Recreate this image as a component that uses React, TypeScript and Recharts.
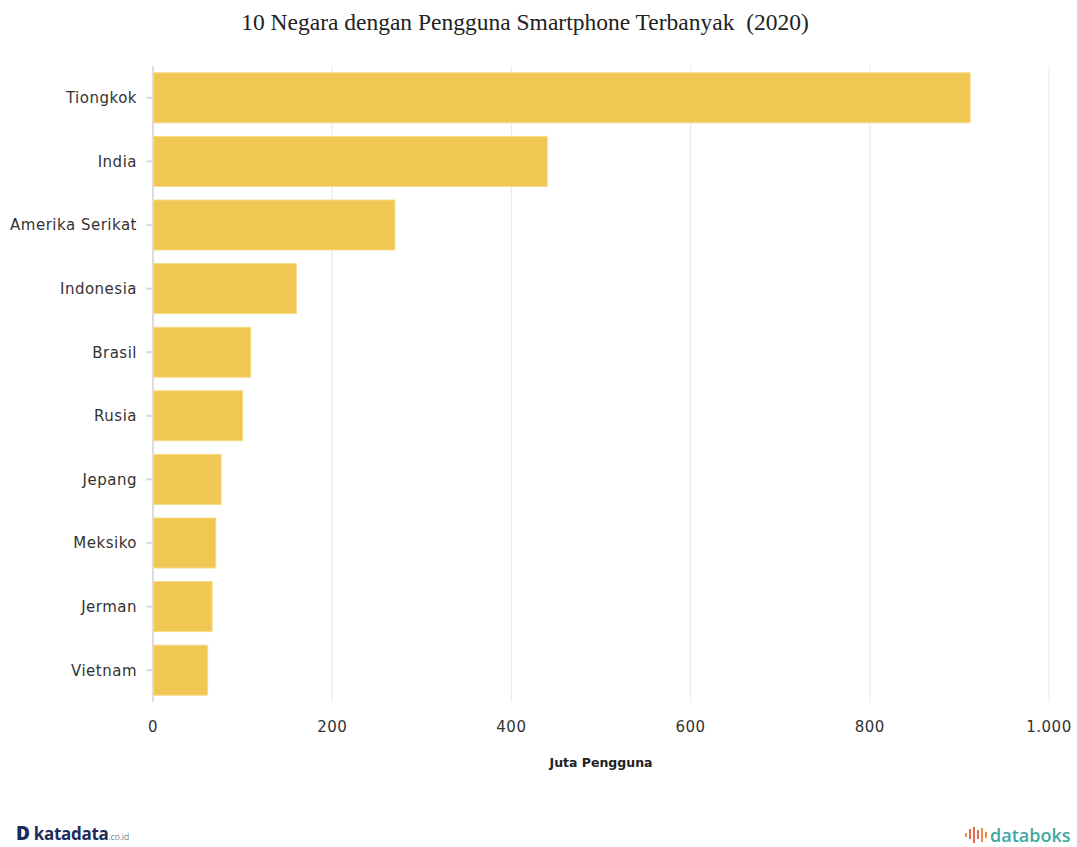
import { BarChart, Bar, XAxis, YAxis, CartesianGrid } from 'recharts'

const countries = [
  'Tiongkok', 'India', 'Amerika Serikat', 'Indonesia', 'Brasil',
  'Rusia', 'Jepang', 'Meksiko', 'Jerman', 'Vietnam',
]
const users = [912, 440, 270, 160, 109, 100, 76, 70, 66, 61]
const xTicks = [0, 200, 400, 600, 800, 1000]

const data = countries.map((c, i) => ({ country: c, users: users[i] }))

const fmt = (v: number) => v.toLocaleString('de-DE')

const tickFont = { fill: '#333', fontSize: 15, letterSpacing: 0.5, fontFamily: '"DejaVu Sans", sans-serif' }

export default function App() {
  return (
    <div style={{ position: 'absolute', left: 0, top: 0, width: 1077, height: 847, background: '#fff', overflow: 'hidden' }}>
      <div
        style={{
          position: 'absolute', top: 7, left: 0, width: 1050, textAlign: 'center',
          fontFamily: '"Liberation Serif", serif', fontSize: 23.5, color: '#222', lineHeight: '30px',
        }}
      >
        10 Negara dengan Pengguna Smartphone Terbanyak&nbsp; (2020)
      </div>
      <BarChart
        width={1077}
        height={847}
        data={data}
        layout="vertical"
        margin={{ top: 66, right: 28, bottom: 115, left: 0 }}
        barCategoryGap="10.7%"
      >
        <CartesianGrid horizontal={false} stroke="#e8e8e8" />
        <XAxis
          type="number"
          domain={[0, 1000]}
          ticks={xTicks}
          tickFormatter={fmt}
          axisLine={false}
          tickLine={false}
          tickMargin={13}
          tick={tickFont}
          label={{
            value: 'Juta Pengguna', position: 'bottom', offset: 26,
            style: { fill: '#222', fontSize: 12.5, fontWeight: 'bold', fontFamily: '"DejaVu Sans", sans-serif' },
          }}
        />
        <YAxis
          type="category"
          dataKey="country"
          width={153}
          axisLine={{ stroke: '#dcdcdc', strokeWidth: 2 }}
          tickLine={{ stroke: '#dcdcdc', strokeWidth: 2 }}
          tickSize={7}
          tickMargin={9}
          tick={tickFont}
        />
        <Bar
          dataKey="users"
          fill="#F0C752"
          stroke="#F6DA86"
          strokeWidth={1}
          isAnimationActive={false}
        />
      </BarChart>
      <div
        style={{
          position: 'absolute', left: 16, top: 822, fontFamily: '"Open Sans", sans-serif',
          fontSize: 17, fontWeight: 700, color: '#1c2d5a', letterSpacing: -0.3, lineHeight: '22px',
        }}
      >
        <span style={{ fontSize: 19, fontWeight: 800 }}>D</span> katadata
        <span style={{ fontSize: 9, fontWeight: 400, color: '#7a8299' }}>.co.id</span>
      </div>
      <div
        style={{
          position: 'absolute', left: 964, top: 825, fontFamily: '"Open Sans", sans-serif',
          fontSize: 18, fontWeight: 600, color: '#3fa7a3', lineHeight: '20px', display: 'flex', alignItems: 'center',
        }}
      >
        <svg width={24} height={18} style={{ marginRight: 2 }}>
          <rect x={1} y={7} width={2} height={4} fill="#f08a4b" />
          <rect x={5} y={3} width={2} height={10} fill="#e8684a" />
          <rect x={9} y={1} width={2} height={16} fill="#e8684a" />
          <rect x={13} y={4} width={2} height={9} fill="#e8684a" />
          <rect x={17} y={2} width={2} height={14} fill="#f08a4b" />
          <rect x={21} y={6} width={2} height={6} fill="#f08a4b" />
        </svg>
        databoks
      </div>
    </div>
  )
}
